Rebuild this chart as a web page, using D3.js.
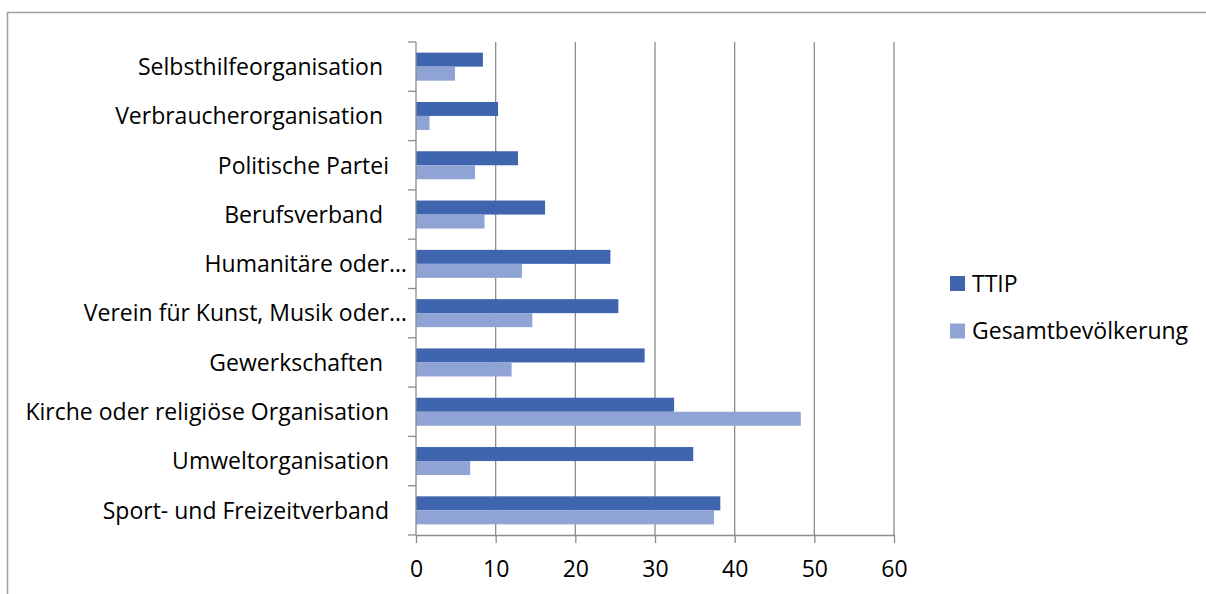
<!DOCTYPE html>
<html>
<head>
<meta charset="utf-8">
<script src="https://cdn.jsdelivr.net/npm/d3@7"></script>
<style>
  body { margin: 0; background: #fff; }
  text { font-family: "Open Sans", Lato, sans-serif; fill: #000; }
</style>
</head>
<body>
<div id="chart"></div>
<script>
// chart data (top to bottom)
const categories = [
  "Selbsthilfeorganisation  ",
  "Verbraucherorganisation  ",
  "Politische Partei ",
  "Berufsverband  ",
  "Humanitäre oder…",
  "Verein für Kunst, Musik oder…",
  "Gewerkschaften  ",
  "Kirche oder religiöse Organisation ",
  "Umweltorganisation ",
  "Sport- und Freizeitverband "
];
const ttip    = [8.4, 10.3, 12.8, 16.2, 24.4, 25.4, 28.7, 32.4, 34.8, 38.2];
const gesamt  = [4.9, 1.7, 7.4, 8.6, 13.3, 14.6, 12.0, 48.3, 6.8, 37.4];
const seriesNames = ["TTIP", "Gesamtbevölkerung"];
const xTicks = [0, 10, 20, 30, 40, 50, 60];

const colors = ["#3e65ae", "#8fa4d4"];
const fontSize = '23px';
const width = 1206;
const height = 594;
const margin = { top: 42, bottom: 59, left: 416, right: 312 };

const svg = d3.select('#chart')
  .append('svg')
  .attr('width', width)
  .attr('height', height);

// outer frame
svg.append('rect')
  .attr('x', 7.5).attr('y', 12.5)
  .attr('width', 1210).attr('height', 600)
  .attr('fill', 'none')
  .attr('stroke', '#a0a0a0')
  .attr('stroke-width', 1.5);

const x = d3.scaleLinear()
  .domain([0, 60])
  .range([margin.left, width - margin.right]);

const y = d3.scaleBand()
  .domain(d3.range(categories.length))
  .range([margin.top, height - margin.bottom])
  .padding(0);

const sub = d3.scaleBand()
  .domain([0, 1])
  .range([0, y.bandwidth()])
  .paddingInner(0)
  .paddingOuter(0.76);

const gridColor = '#8c8c8c';

// vertical gridlines
svg.append('g')
  .selectAll('line')
  .data(xTicks.slice(1))
  .join('line')
    .attr('x1', d => x(d)).attr('x2', d => x(d))
    .attr('y1', margin.top).attr('y2', height - margin.bottom)
    .attr('stroke', gridColor)
    .attr('stroke-width', 1.3);

// bars
const rows = categories.map((c, i) => ({ i, vals: [ttip[i], gesamt[i]] }));
svg.append('g')
  .selectAll('g')
  .data(rows)
  .join('g')
    .attr('transform', d => `translate(0,${y(d.i)})`)
  .selectAll('rect')
  .data(d => d.vals.map((v, s) => ({ v, s })))
  .join('rect')
    .attr('x', x(0))
    .attr('y', d => sub(d.s))
    .attr('width', d => x(d.v) - x(0))
    .attr('height', sub.bandwidth())
    .attr('fill', d => colors[d.s]);

// x axis
const xAxis = svg.append('g')
  .attr('transform', `translate(0,${height - margin.bottom})`)
  .call(d3.axisBottom(x).tickValues(xTicks).tickSize(8).tickPadding(18).tickSizeOuter(0));
xAxis.select('.domain').attr('stroke', gridColor).attr('stroke-width', 1.3);
xAxis.selectAll('.tick line').attr('stroke', gridColor).attr('stroke-width', 1.3);
xAxis.selectAll('.tick text')
  .style('font-family', '"Open Sans", Lato, sans-serif')
  .style('font-size', fontSize);

// y axis line and ticks at category boundaries
const yBounds = d3.range(categories.length + 1).map(i => margin.top + i * y.step());
svg.append('line')
  .attr('x1', x(0)).attr('x2', x(0))
  .attr('y1', margin.top).attr('y2', height - margin.bottom)
  .attr('stroke', gridColor).attr('stroke-width', 1.3);
svg.append('g')
  .selectAll('line')
  .data(yBounds)
  .join('line')
    .attr('x1', x(0) - 8).attr('x2', x(0))
    .attr('y1', d => d).attr('y2', d => d)
    .attr('stroke', gridColor).attr('stroke-width', 1.3);

// category labels
svg.append('g')
  .selectAll('text')
  .data(categories)
  .join('text')
    .attr('x', d => d.endsWith('…') ? x(0) - 9 : x(0) - 21)
    .attr('y', (d, i) => y(i) + y.bandwidth() / 2)
    .attr('dy', '0.36em')
    .attr('text-anchor', 'end')
    .style('white-space', 'pre')
    .style('font-size', fontSize)
    .text(d => d);

// legend
const legend = svg.append('g')
  .selectAll('g')
  .data(seriesNames)
  .join('g')
    .attr('transform', (d, i) => `translate(950,${276 + i * 47.5})`);
legend.append('rect')
  .attr('width', 15).attr('height', 15)
  .attr('fill', (d, i) => colors[i]);
legend.append('text')
  .attr('x', 22).attr('y', 7.5)
  .attr('dy', '0.36em')
  .style('font-size', fontSize)
  .text(d => d);

svg.node();
</script>
</body>
</html>
